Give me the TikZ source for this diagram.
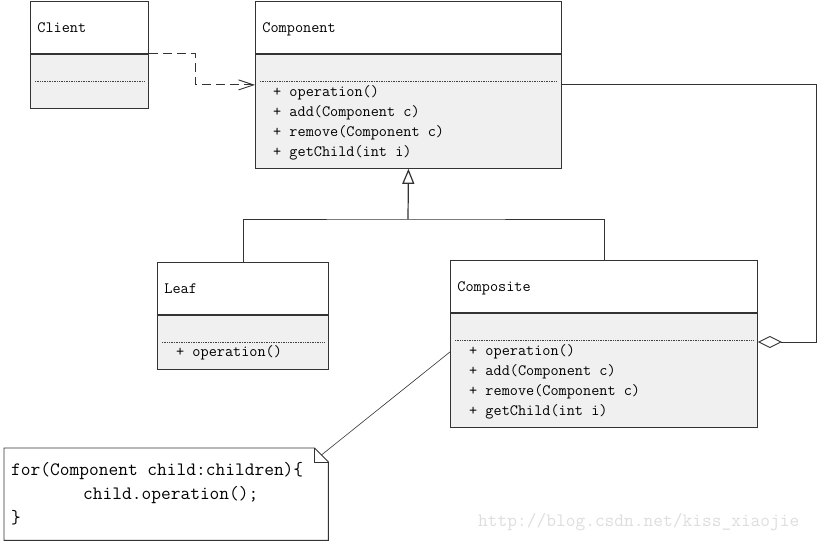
\documentclass[tikz,border=0pt]{standalone}
\usepackage{fontspec}
\usepackage{tikz}
\usetikzlibrary{arrows.meta}

\tikzset{
  umlbox/.style={draw=black!80, line width=0.9pt, inner xsep=7pt, inner ysep=0pt,
    anchor=north west, text width=#1, align=left},
  ctitle/.style={umlbox=#1, fill=white, minimum height=52pt, text height=11pt,
    text depth=1pt, font=\ttfamily\fontsize{15.8pt}{20pt}\selectfont},
  cbody/.style={umlbox=#1, fill=black!6},
  dotsep/.style={densely dotted, line width=0.7pt, black!75},
  method/.style={anchor=base west, inner sep=0pt, font=\ttfamily\fontsize{15.8pt}{20pt}\selectfont},
  codeline/.style={anchor=base west, inner sep=0pt, font=\ttfamily\fontsize{18.9pt}{20pt}\selectfont},
  notebox/.style={anchor=north west, inner sep=0pt, minimum width=324pt, minimum height=92pt},
  link/.style={draw=black!80, line width=0.9pt},
}

\begin{document}
\begin{tikzpicture}[x=1pt,y=-1pt]
    \fill[white] (0,0) rectangle (818,542);
    \useasboundingbox (0,0) rectangle (818,542);
    % Draw the four classes
    \node[ctitle=104pt] (client) at (30,1) {Client};
    \node[cbody=104pt, minimum height=54pt] (clientb) at (client.south west) {};
    \node[ctitle=292pt] (cp) at (255,1) {Component};
    \node[cbody=292pt, minimum height=114pt] (cpb) at (cp.south west) {};
    \node[ctitle=157pt] (leaf) at (157,262) {Leaf};
    \node[cbody=157pt, minimum height=54pt] (leafb) at (leaf.south west) {};
    \node[ctitle=293pt] (comp) at (450,260) {Composite};
    \node[cbody=293pt, minimum height=114pt] (compb) at (comp.south west) {};

    % Dotted separators
    \foreach \b in {clientb,cpb,leafb,compb}
        \draw[dotsep] ([xshift=5pt,yshift=-27pt]\b.north west) -- ([xshift=-5pt,yshift=-27pt]\b.north east);

    % Operations
    \foreach \m [count=\i] in {operation(),add(Component c),remove(Component c),getChild(int i)} {
        \node[method] (cpm\i) at ([xshift=18pt,yshift={-(23+20*\i)*1pt}]cpb.north west) {+ \m};
        \node[method] (compm\i) at ([xshift=19pt,yshift={-(23+20*\i)*1pt}]compb.north west) {+ \m};
    }
    \node[method] (leafm1) at ([xshift=19pt,yshift=-42pt]leafb.north west) {+ operation()};

    % Client depends on Component
    \draw[link, dash pattern=on 9pt off 5pt, -{Straight Barb[length=15pt,width=10pt]}]
        (client.south east) -- ++(47,0) |- ([yshift=-31pt]cpb.north west);

    % Leaf and Composite inherit from Component
    \coordinate (joint) at (408,219);
    \draw[link] (leaf.north) |- (joint) -| (comp.north);
    \draw[link, line width=1.2pt, -{Triangle[open,length=15pt,width=12pt]}] (joint) -- (cpb.south);

    % Composite holds Components
    \coordinate (aggr) at (816,342);
    \draw[link, {Diamond[open,length=24pt,width=12pt]}-]
        (aggr -| compb.east) -- (aggr) |- ([yshift=-31pt]cpb.north east);

    % Note with the loop
    \node[notebox] (note) at (4,448) {};
    \draw[link, fill=white] (note.north west) -- ([xshift=-14pt]note.north east)
        -- ([yshift=-14pt]note.north east) -- (note.south east) -- (note.south west) -- cycle;
    \draw[link] ([xshift=-14pt]note.north east) |- ([yshift=-14pt]note.north east);
    \node[codeline] (code1) at ([xshift=7pt,yshift=-27pt]note.north west) {for(Component child:children)\{};
    \node[codeline] (code2) at ([xshift=79pt,yshift=-51pt]note.north west) {child.operation();};
    \node[codeline] (code3) at ([xshift=7pt,yshift=-75pt]note.north west) {\}};
    \draw[link, line width=0.6pt] ([xshift=-7pt,yshift=-7pt]note.north east) -- ([yshift=-39pt]compb.north west);

    % Watermark
    \node[codeline, text=black!13] (mark) at (478,526) {http://blog.csdn.net/kiss\_xiaojie};
\end{tikzpicture}
\end{document}
